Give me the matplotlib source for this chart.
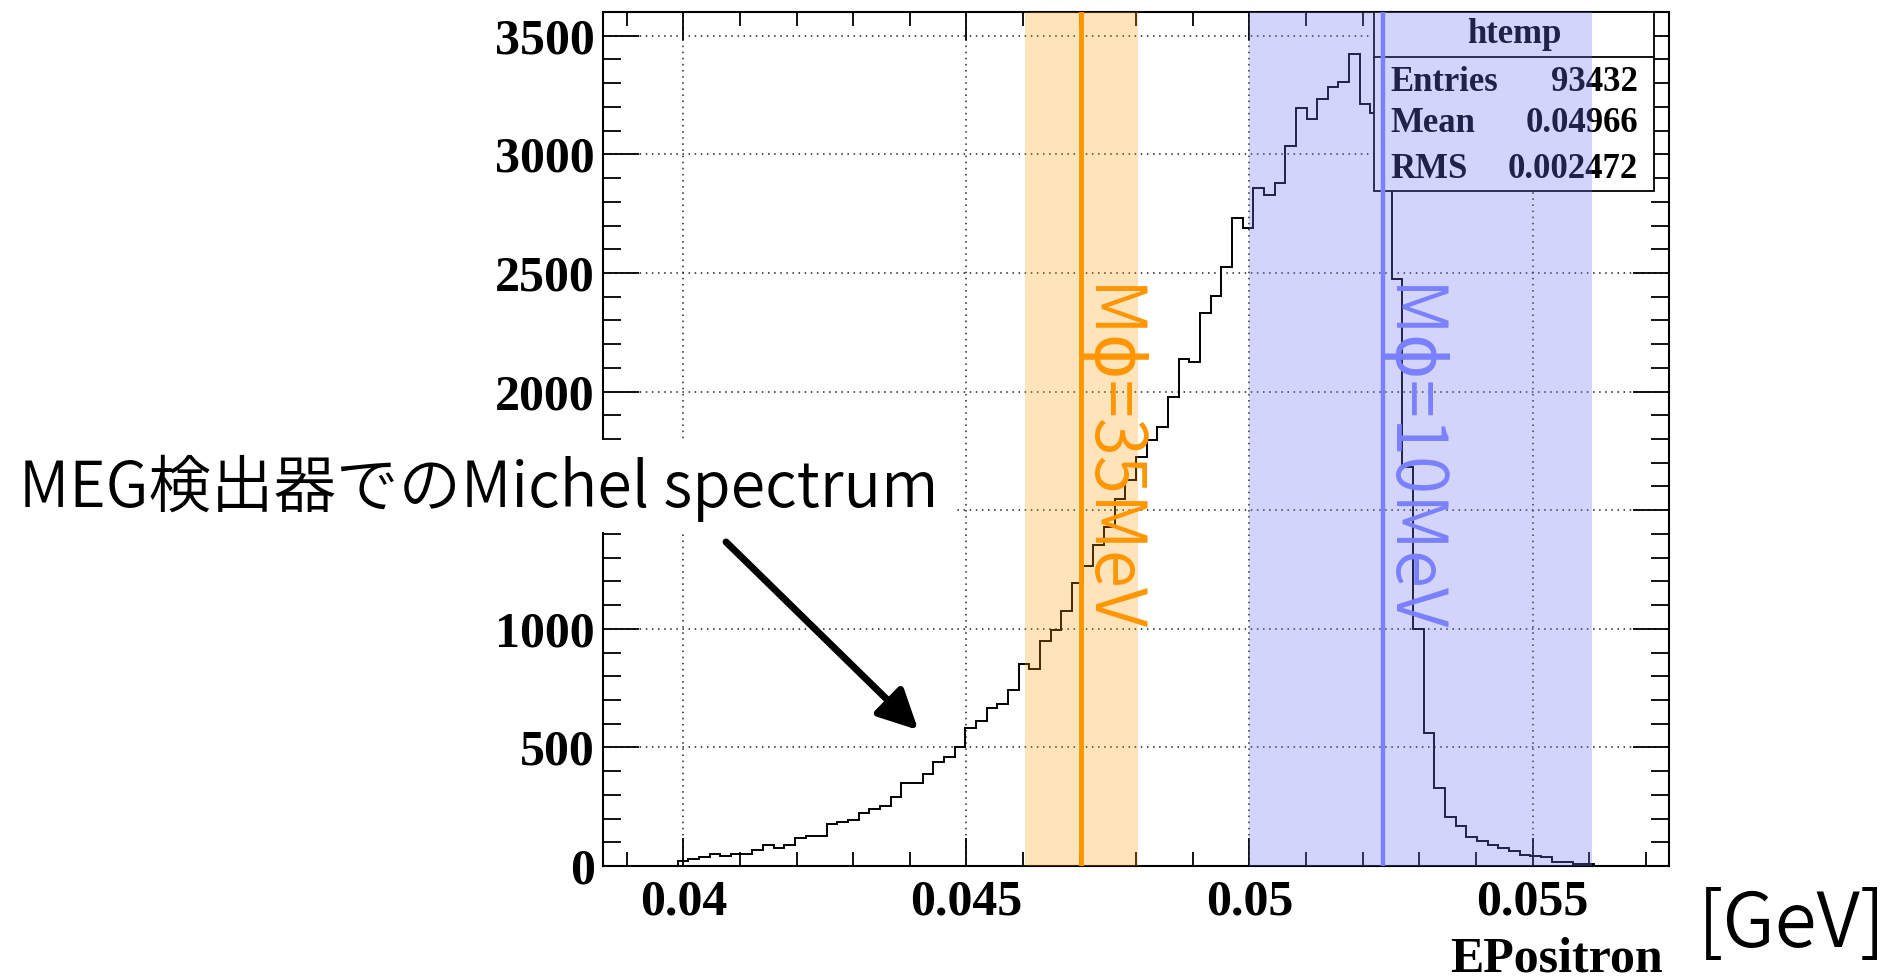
import numpy as np
import matplotlib
matplotlib.use('Agg')
import matplotlib.pyplot as plt
import matplotlib.transforms as mtransforms
from matplotlib.patches import Rectangle
from matplotlib.ticker import MultipleLocator

# histogram range of the ROOT TTree::Draw output (100 bins)
x_lo, x_hi = 0.03858, 0.05741
n_bins = 100

# bin contents (bins 0..99)
counts = ([0] * 7 +
          [20, 28, 36, 50, 42, 50, 50, 67, 88, 78,
           88, 118, 125, 125, 175, 185, 194, 222, 240, 254,
           292, 351, 351, 389, 439, 458, 500, 580, 613, 665,
           683, 742, 851, 829, 950, 995, 1077, 1195, 1265, 1353,
           1431, 1546, 1627, 1723, 1796, 1849, 1979, 2136, 2126, 2333,
           2403, 2524, 2730, 2688, 2857, 2829, 2878, 3037, 3194, 3148,
           3234, 3283, 3307, 3423, 3213, 3173, 3100, 2473, 1683, 1000,
           562, 327, 208, 169, 121, 107, 89, 77, 63, 46,
           42, 37, 18, 18, 7, 7] +
          [0] * 7)

xticks = [0.04, 0.045, 0.05, 0.055]
xtick_labels = ['0.04', '0.045', '0.05', '0.055']
yticks = [0, 500, 1000, 1500, 2000, 2500, 3000, 3500]

# signal positions (positron energy for M_phi = 35 and 10 MeV) and windows
e35, win35 = 0.04703, (0.04603, 0.04803)
e10, win10 = 0.05236, (0.0500, 0.05605)

stats_title = 'htemp'
stats_rows = [('Entries', '93432'), ('Mean', '0.04966'), ('RMS', '0.002472')]

jp = ['Noto Sans CJK JP', 'DejaVu Sans']
serif = 'Liberation Serif'

fig = plt.figure(figsize=(18.89, 9.76), dpi=100)
ax = fig.add_axes([0.3192, 0.1127, 0.5643, 0.875])

edges = np.linspace(x_lo, x_hi, n_bins + 1)
ax.stairs(counts, edges, color='black', lw=1.4, zorder=3)

ax.set_xlim(x_lo, x_hi)
ax.set_ylim(0, 3600)
ax.set_xticks(xticks, xtick_labels)
ax.set_yticks(yticks)
ax.xaxis.set_minor_locator(MultipleLocator(0.001))
ax.yaxis.set_minor_locator(MultipleLocator(100))
ax.tick_params(which='both', direction='in', top=True, right=True, width=1.3)
ax.tick_params(axis='y', which='major', length=26, pad=6)
ax.tick_params(axis='y', which='minor', length=13)
ax.tick_params(axis='x', which='major', length=20, pad=10)
ax.tick_params(axis='x', which='minor', length=10)
for lab in ax.get_xticklabels() + ax.get_yticklabels():
    lab.set_fontfamily(serif)
    lab.set_fontweight('bold')
    lab.set_fontsize(36)
for sp in ax.spines.values():
    sp.set_linewidth(1.5)
ax.grid(True, which='major', linestyle=(0, (1, 3)), color='#222222', lw=1.1)

# stats box
ax.add_patch(Rectangle((0.7233, 0.7907), 0.2626, 0.2093, transform=ax.transAxes,
                       facecolor='white', edgecolor='black', lw=1.3, zorder=4))
ax.plot([0.7233, 0.9859], [0.9477, 0.9477], transform=ax.transAxes,
        color='black', lw=1.3, zorder=4)
ax.text(0.8546, 0.9742, stats_title, transform=ax.transAxes, ha='center', va='center',
        family=serif, weight='bold', fontsize=25, zorder=4.5)
for i, (name, val) in enumerate(stats_rows):
    yy = [0.9169, 0.8689, 0.8150][i]
    ax.text(0.7383, yy, name, transform=ax.transAxes, ha='left', va='center',
            family=serif, weight='bold', fontsize=25, zorder=4.5)
    ax.text(0.9709, yy, val, transform=ax.transAxes, ha='right', va='center',
            family=serif, weight='bold', fontsize=25, zorder=4.5)

# signal windows and lines
ax.axvspan(*win35, color='#FF9900', alpha=0.27, lw=0, zorder=5)
ax.axvspan(*win10, color='#6E73F0', alpha=0.30, lw=0, zorder=5)
ax.axvline(e35, color='#FF9600', lw=3.5, zorder=6)
ax.axvline(e10, color='#7A80FF', lw=3.2, zorder=6)

trans = mtransforms.blended_transform_factory(ax.transData, ax.transAxes)
ax.text(e35 - 0.00018, 0.68, 'Mϕ=35MeV', transform=trans, rotation=-90,
        ha='left', va='top', color='#FF9600', fontsize=50, family=jp,
        weight=350, zorder=7)
ax.text(e10 - 0.00018, 0.68, 'Mϕ=10MeV', transform=trans, rotation=-90,
        ha='left', va='top', color='#7A80FF', fontsize=50, family=jp,
        weight=350, zorder=7)

# annotation arrow pointing at the spectrum
ax.annotate('', xy=(0.04415, 573), xytext=(0.040754, 1366),
            arrowprops=dict(arrowstyle='-|>,head_length=0.8,head_width=0.4',
                            lw=5, color='black', mutation_scale=30,
                            shrinkA=0, shrinkB=0),
            annotation_clip=False, zorder=8)

# white label box over the axis
fig.patches.append(Rectangle((0, 1 - 532 / 976), 955 / 1889, 92 / 976,
                             transform=fig.transFigure, facecolor='white',
                             edgecolor='none', zorder=1))
fig.text(19 / 1889, 1 - 507 / 976, 'MEG検出器でのMichel spectrum', ha='left',
         va='baseline', fontsize=45, family=jp, weight=350, zorder=3)

fig.text(1663 / 1889, 1 - 971 / 976, 'EPositron', ha='right', va='baseline',
         family=serif, weight='bold', fontsize=36)
fig.text(1698 / 1889, 1 - 926 / 976, '[GeV]', ha='left', va='center',
         fontsize=55, family=jp, weight=350)

fig.savefig('out.png', dpi=100)
